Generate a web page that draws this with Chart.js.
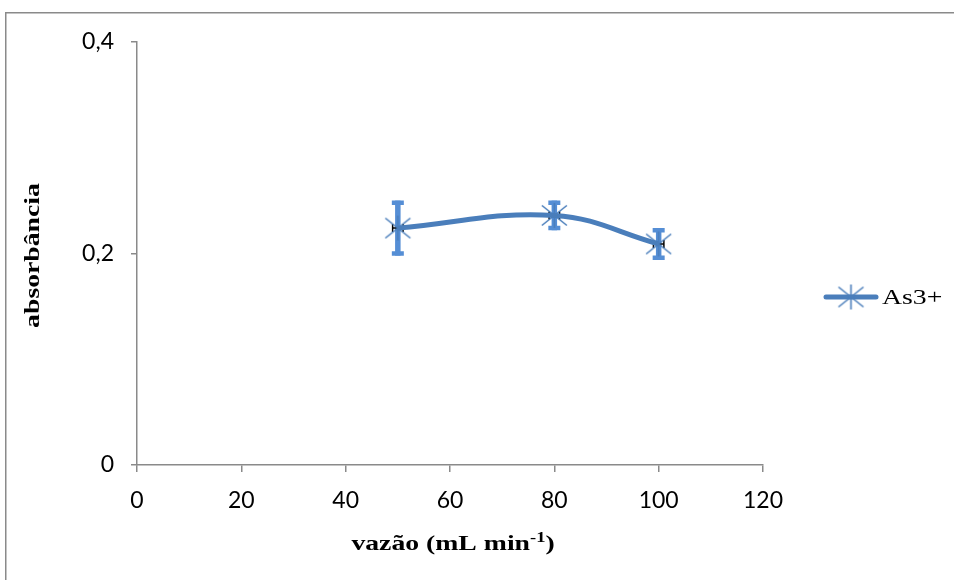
<!DOCTYPE html>
<html>
<head>
<meta charset="utf-8">
<script src="https://cdn.jsdelivr.net/npm/chart.js@4/dist/chart.umd.min.js"></script>
<style>
  html, body { margin: 0; padding: 0; background: #fff; overflow: hidden; }
  canvas { display: block; }
</style>
</head>
<body>
<canvas id="c" width="954" height="580"></canvas>
<script>
// Flow rate (mL/min) vs. absorbance for As3+
const flowRates = [50, 80, 100];
const absorbance = [0.224, 0.236, 0.209];
const absErr = [0.026, 0.014, 0.015];
const flowErr = [1, 1, 1];
const xTicks = [0, 20, 40, 60, 80, 100, 120];
const yTicks = [0, 0.2, 0.4];
const seriesName = 'As3+';

const LINE = '#4A7EBB';
const BAR = '#558ED5';
const TICK_FONT = 'Lato, "Open Sans", sans-serif';
const SERIF = '"Liberation Serif", "Times New Roman", serif';
const STRETCH = 1.32; // serif labels are set wide

// Star marker: an X with a vertical stroke
function starMarker(r, color) {
  const s = Math.ceil(r * 2 + 4);
  const cv = document.createElement('canvas');
  cv.width = s; cv.height = s;
  const g = cv.getContext('2d');
  const c = s / 2;
  g.strokeStyle = color; g.lineWidth = 1.6;
  g.beginPath();
  g.moveTo(c - r, c - r * 0.8); g.lineTo(c + r, c + r * 0.8);
  g.moveTo(c - r, c + r * 0.8); g.lineTo(c + r, c - r * 0.8);
  g.moveTo(c, c - r); g.lineTo(c, c + r);
  g.stroke();
  return cv;
}
const marker = starMarker(12.5, LINE);

// Outer frame (top and left edges of the chart box)
const frame = {
  id: 'frame',
  beforeDraw(chart) {
    const ctx = chart.ctx;
    ctx.save();
    ctx.strokeStyle = '#8a8a8a'; ctx.lineWidth = 1.5;
    ctx.beginPath();
    ctx.moveTo(5.75, 580); ctx.lineTo(5.75, 12.75); ctx.lineTo(954, 12.75);
    ctx.stroke();
    ctx.restore();
  }
};

const errorBars = {
  id: 'errorBars',
  beforeDatasetsDraw(chart) {
    const ctx = chart.ctx, xs = chart.scales.x, ys = chart.scales.y;
    ctx.save();
    flowRates.forEach((fx, i) => {
      const px = xs.getPixelForValue(fx);
      const top = ys.getPixelForValue(absorbance[i] + absErr[i]);
      const bot = ys.getPixelForValue(absorbance[i] - absErr[i]);
      ctx.strokeStyle = BAR; ctx.lineWidth = 5.5; ctx.lineCap = 'butt';
      ctx.beginPath(); ctx.moveTo(px, top); ctx.lineTo(px, bot); ctx.stroke();
      ctx.lineWidth = 4.5;
      ctx.beginPath();
      ctx.moveTo(px - 6, top + 2.2); ctx.lineTo(px + 6, top + 2.2);
      ctx.moveTo(px - 6, bot - 2.2); ctx.lineTo(px + 6, bot - 2.2);
      ctx.stroke();
      // horizontal error (flow rate)
      const py = ys.getPixelForValue(absorbance[i]);
      const l = xs.getPixelForValue(fx - flowErr[i]);
      const r = xs.getPixelForValue(fx + flowErr[i]);
      ctx.strokeStyle = '#000'; ctx.lineWidth = 1.5;
      ctx.beginPath();
      ctx.moveTo(l, py); ctx.lineTo(r, py);
      ctx.moveTo(l, py - 4); ctx.lineTo(l, py + 4);
      ctx.moveTo(r, py - 4); ctx.lineTo(r, py + 4);
      ctx.stroke();
    });
    ctx.restore();
  }
};

const annotations = {
  id: 'annotations',
  afterDraw(chart) {
    const ctx = chart.ctx, a = chart.chartArea;
    ctx.save();
    ctx.fillStyle = '#000';
    ctx.textBaseline = 'alphabetic';
    // x-axis title with superscript
    const main = 'vazão (mL min', sup = '-1', tail = ')';
    const big = 'bold 21px ' + SERIF, small = 'bold 14px ' + SERIF;
    ctx.font = big;
    const w1 = ctx.measureText(main).width, w3 = ctx.measureText(tail).width;
    ctx.font = small;
    const w2 = ctx.measureText(sup).width;
    const total = w1 + w2 + w3;
    ctx.save();
    ctx.translate((a.left + a.right) / 2 + 3, 550);
    ctx.scale(STRETCH, 1);
    let x = -total / 2;
    ctx.textAlign = 'left';
    ctx.font = big; ctx.fillText(main, x, 0); x += w1;
    ctx.font = small; ctx.fillText(sup, x, -8); x += w2;
    ctx.font = big; ctx.fillText(tail, x, 0);
    ctx.restore();
    // y-axis title
    ctx.save();
    ctx.translate(39, (a.top + a.bottom) / 2 + 2);
    ctx.rotate(-Math.PI / 2);
    ctx.scale(STRETCH, 1);
    ctx.textAlign = 'center';
    ctx.font = big;
    ctx.fillText('absorbância', 0, 0);
    ctx.restore();
    // legend
    const ly = 297;
    ctx.strokeStyle = LINE; ctx.lineWidth = 5; ctx.lineCap = 'round';
    ctx.beginPath(); ctx.moveTo(826, ly); ctx.lineTo(876, ly); ctx.stroke();
    ctx.drawImage(marker, 851 - marker.width / 2, ly - marker.height / 2);
    ctx.save();
    ctx.translate(882, ly + 7);
    ctx.scale(STRETCH, 1);
    ctx.font = '21px ' + SERIF; ctx.textAlign = 'left';
    ctx.fillText(seriesName, 0, 0);
    ctx.restore();
    ctx.restore();
  }
};

new Chart(document.getElementById('c'), {
  type: 'line',
  data: {
    datasets: [{
      label: seriesName,
      data: flowRates.map((v, i) => ({ x: v, y: absorbance[i] })),
      borderColor: LINE,
      borderWidth: 5,
      tension: 0.4,
      pointStyle: marker,
      pointRadius: 12,
      fill: false
    }]
  },
  options: {
    responsive: false,
    animation: false,
    events: [],
    layout: { padding: { left: 0, right: 191, top: 42, bottom: 0 } },
    plugins: { legend: { display: false }, tooltip: { enabled: false } },
    scales: {
      x: {
        type: 'linear', min: 0, max: 120,
        afterBuildTicks: s => { s.ticks = xTicks.map(v => ({ value: v })); },
        afterFit: s => { s.height = 580 - 465; },
        border: { color: '#8a8a8a', width: 1.5 },
        grid: { drawOnChartArea: false, tickLength: 7, color: '#8a8a8a', lineWidth: 1.5 },
        ticks: { font: { family: TICK_FONT, size: 23 }, color: '#000', padding: 15 }
      },
      y: {
        type: 'linear', min: 0, max: 0.4,
        afterBuildTicks: s => { s.ticks = yTicks.map(v => ({ value: v })); },
        afterFit: s => { s.width = 137; },
        border: { color: '#8a8a8a', width: 1.5 },
        grid: { drawOnChartArea: false, tickLength: 6, color: '#8a8a8a', lineWidth: 1.5 },
        ticks: {
          font: { family: TICK_FONT, size: 23 }, color: '#000', padding: 17,
          callback: v => v === 0 ? '0' : v.toFixed(1).replace('.', ',')
        }
      }
    }
  },
  plugins: [frame, errorBars, annotations]
});
</script>
</body>
</html>
